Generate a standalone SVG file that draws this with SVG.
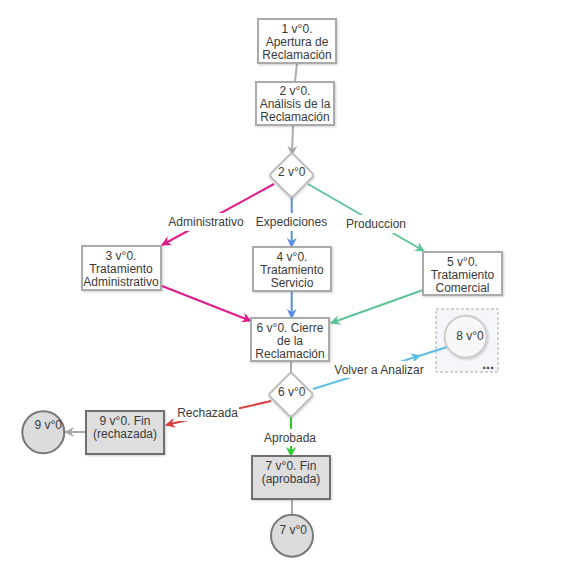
<svg xmlns="http://www.w3.org/2000/svg" width="571" height="564" viewBox="0 0 571 564">
<style>
  text { font-family: "Liberation Sans", Arial, sans-serif; font-size: 12px; fill: #3a3a3a; text-anchor: middle; }
  .box { fill: #ffffff; stroke: #aaaaaa; stroke-width: 2; filter: url(#sh); }
  .fin { fill: #dedede; stroke: #707070; stroke-width: 2; filter: url(#sh); }
  .dia { fill: #ffffff; stroke: #bbbbbb; stroke-width: 2; filter: url(#sh); }
  .endc { fill: #dcdcdc; stroke: #777777; stroke-width: 2; }
  .lbl { fill: #ffffff; }
  .e { fill: none; stroke-width: 2; }
</style>
<defs>
  <filter id="sh" x="-20%" y="-20%" width="140%" height="140%">
    <feDropShadow dx="1" dy="1" stdDeviation="1" flood-color="#000" flood-opacity="0.18"/>
  </filter>
  <marker id="aGray" viewBox="0 0 10 10" refX="9" refY="5" markerWidth="10" markerHeight="10" markerUnits="userSpaceOnUse" orient="auto"><path d="M0,0 L10,5 L0,10 L3,5 z" fill="#aaaaaa"/></marker>
  <marker id="aMag" viewBox="0 0 10 10" refX="9" refY="5" markerWidth="10" markerHeight="10" markerUnits="userSpaceOnUse" orient="auto"><path d="M0,0 L10,5 L0,10 L3,5 z" fill="#e01b8a"/></marker>
  <marker id="aBlue" viewBox="0 0 10 10" refX="9" refY="5" markerWidth="10" markerHeight="10" markerUnits="userSpaceOnUse" orient="auto"><path d="M0,0 L10,5 L0,10 L3,5 z" fill="#5b8de4"/></marker>
  <marker id="aGreen" viewBox="0 0 10 10" refX="9" refY="5" markerWidth="10" markerHeight="10" markerUnits="userSpaceOnUse" orient="auto"><path d="M0,0 L10,5 L0,10 L3,5 z" fill="#5ec497"/></marker>
  <marker id="aLBlue" viewBox="0 0 10 10" refX="9" refY="5" markerWidth="10" markerHeight="10" markerUnits="userSpaceOnUse" orient="auto"><path d="M0,0 L10,5 L0,10 L3,5 z" fill="#5bbde4"/></marker>
  <marker id="aRed" viewBox="0 0 10 10" refX="9" refY="5" markerWidth="10" markerHeight="10" markerUnits="userSpaceOnUse" orient="auto"><path d="M0,0 L10,5 L0,10 L3,5 z" fill="#d94040"/></marker>
  <marker id="aBGreen" viewBox="0 0 10 10" refX="9" refY="5" markerWidth="10" markerHeight="10" markerUnits="userSpaceOnUse" orient="auto"><path d="M0,0 L10,5 L0,10 L3,5 z" fill="#2ccf2c"/></marker>
</defs>

<g id="group8">
  <rect x="436" y="309" width="62" height="63" fill="#f4f6fa" stroke="#aaaaaa" stroke-width="1" stroke-dasharray="3,2"/>
  <text x="488" y="369" style="font-weight:bold;font-size:14px">...</text>
</g>

<g id="connectors">
  <line class="e" x1="297" y1="63" x2="295" y2="82" stroke="#aaaaaa"/>
  <line class="e" x1="293" y1="125" x2="292" y2="155" stroke="#aaaaaa" marker-end="url(#aGray)"/>
  <line class="e" x1="274" y1="184" x2="162" y2="245" stroke="#e01b8a" marker-end="url(#aMag)"/>
  <line class="e" x1="291.7" y1="197" x2="291.7" y2="247" stroke="#5b8de4" marker-end="url(#aBlue)"/>
  <line class="e" x1="308" y1="184" x2="424" y2="251" stroke="#5ec497" marker-end="url(#aGreen)"/>
  <line class="e" x1="162" y1="286" x2="251" y2="321" stroke="#e01b8a" marker-end="url(#aMag)"/>
  <line class="e" x1="291.7" y1="291" x2="291.7" y2="318" stroke="#5b8de4" marker-end="url(#aBlue)"/>
  <line class="e" x1="423" y1="290" x2="331" y2="323" stroke="#5ec497" marker-end="url(#aGreen)"/>
  <line class="e" x1="291" y1="361" x2="291" y2="374" stroke="#aaaaaa"/>
  <line class="e" x1="313" y1="389" x2="420" y2="355.6" stroke="#5bbde4" marker-end="url(#aLBlue)"/>
  <line class="e" x1="418" y1="356.2" x2="447" y2="347" stroke="#5bbde4"/>
  <line class="e" x1="271" y1="401" x2="166" y2="425" stroke="#d94040" marker-end="url(#aRed)"/>
  <line class="e" x1="291" y1="417" x2="291" y2="456" stroke="#2ccf2c" marker-end="url(#aBGreen)"/>
  <line class="e" x1="86" y1="432" x2="65" y2="432" stroke="#aaaaaa" marker-end="url(#aGray)"/>
  <line class="e" x1="292" y1="499" x2="292" y2="514" stroke="#aaaaaa"/>
</g>

<g id="labels">
  <rect class="lbl" x="166" y="213" width="80" height="18"/>
  <text x="206" y="226">Administrativo</text>
  <rect class="lbl" x="254" y="213" width="75" height="18"/>
  <text x="291.5" y="226">Expediciones</text>
  <rect class="lbl" x="344" y="215" width="65" height="18"/>
  <text x="376" y="228">Produccion</text>
  <rect class="lbl" x="332" y="361" width="94" height="17"/>
  <text x="379" y="374">Volver a Analizar</text>
  <rect class="lbl" x="175" y="405" width="64" height="16"/>
  <text x="207.5" y="417">Rechazada</text>
  <rect class="lbl" x="263" y="429" width="54" height="17"/>
  <text x="290" y="441.5">Aprobada</text>
</g>

<g id="n1">
  <rect class="box" x="258" y="19" width="78" height="44"/>
  <text x="297" y="33">1 v°0.</text>
  <text x="297" y="46">Apertura de</text>
  <text x="297" y="59">Reclamación</text>
</g>
<g id="n2">
  <rect class="box" x="256" y="82" width="78" height="43"/>
  <text x="295" y="94.5">2 v°0.</text>
  <text x="295" y="107.5">Análisis de la</text>
  <text x="295" y="120.5">Reclamación</text>
</g>
<g id="d2">
  <rect class="dia" x="-16" y="-16" width="32" height="32" rx="3" transform="translate(291.7,175.3) rotate(45)"/>
  <text x="291.7" y="176">2 v°0</text>
</g>
<g id="n3">
  <rect class="box" x="82" y="246" width="79" height="44"/>
  <text x="121" y="260">3 v°0.</text>
  <text x="121" y="273">Tratamiento</text>
  <text x="121" y="286">Administrativo</text>
</g>
<g id="n4">
  <rect class="box" x="253" y="247" width="78" height="44"/>
  <text x="292" y="261">4 v°0.</text>
  <text x="292" y="274">Tratamiento</text>
  <text x="292" y="287">Servicio</text>
</g>
<g id="n5">
  <rect class="box" x="423" y="252" width="79" height="43"/>
  <text x="462.5" y="265.5">5 v°0.</text>
  <text x="462.5" y="278.5">Tratamiento</text>
  <text x="462.5" y="291.5">Comercial</text>
</g>
<g id="n6">
  <rect class="box" x="251" y="318" width="78" height="43"/>
  <text x="290" y="331.5">6 v°0. Cierre</text>
  <text x="290" y="344.5">de la</text>
  <text x="290" y="357.5">Reclamación</text>
</g>
<g id="n8">
  <circle cx="465.7" cy="336.7" r="21" fill="#f8f8f8" stroke="#cccccc" stroke-width="2" filter="url(#sh)"/>
  <text x="470" y="339.5">8 v°0</text>
</g>
<g id="d6">
  <rect class="dia" x="-16" y="-16" width="32" height="32" rx="3" transform="translate(291,394.8) rotate(45)"/>
  <text x="291.7" y="396">6 v°0</text>
</g>
<g id="n9">
  <rect class="fin" x="86" y="411" width="78" height="43"/>
  <text x="125" y="424.5">9 v°0. Fin</text>
  <text x="125" y="437.5">(rechazada)</text>
</g>
<g id="c9">
  <circle class="endc" cx="43.3" cy="432.3" r="21"/>
  <text x="48.3" y="428.5">9 v°0</text>
</g>
<g id="n7">
  <rect class="fin" x="252" y="456" width="78" height="43"/>
  <text x="291" y="469.5">7 v°0. Fin</text>
  <text x="291" y="482.5">(aprobada)</text>
</g>
<g id="c7">
  <circle class="endc" cx="292" cy="535.7" r="21"/>
  <text x="293.3" y="534">7 v°0</text>
</g>
</svg>
